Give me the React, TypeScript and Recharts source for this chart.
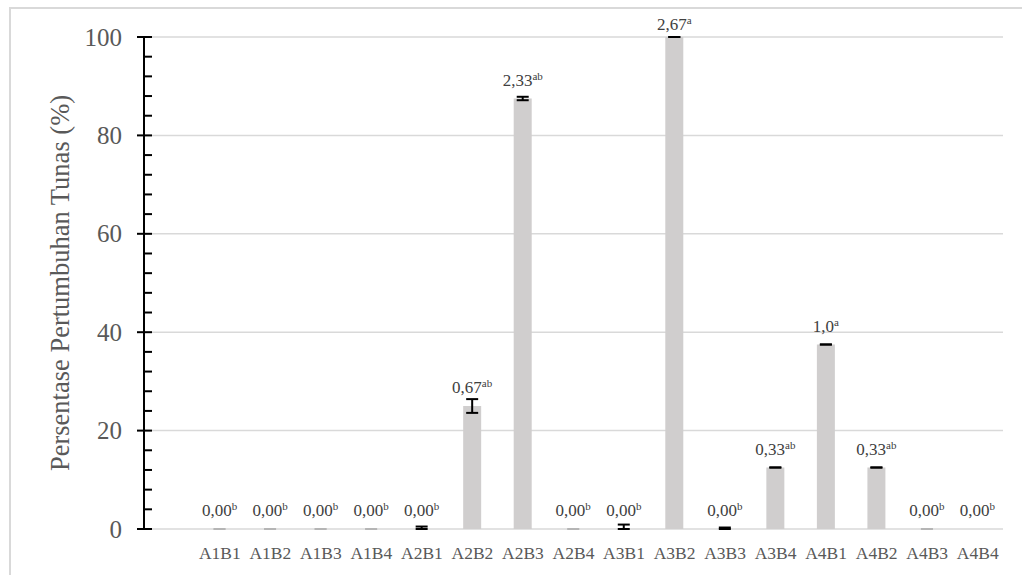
import { BarChart, Bar, XAxis, YAxis, CartesianGrid, ErrorBar, LabelList } from "recharts";

// treatment codes (first slot is intentionally left empty)
const categories = ["", "A1B1", "A1B2", "A1B3", "A1B4", "A2B1", "A2B2", "A2B3", "A2B4", "A3B1", "A3B2", "A3B3", "A3B4", "A4B1", "A4B2", "A4B3", "A4B4"];
// shoot growth percentage
const growth = [null, 0, 0, 0, 0, 0, 25, 87.5, 0, 0, 100, 0, 12.5, 37.5, 12.5, 0, 0];
// standard error, lower / upper
const errLow = [null, null, null, null, null, 0, 1.4, 0.35, null, 0, 0, 0, 0, 0, 0, null, null];
const errHigh = [null, null, null, null, null, 0.5, 1.4, 0.35, null, 0.9, 0, 0.3, 0, 0, 0, null, null];
// zero bars that only show a faint base mark
const faint = [false, true, true, true, true, false, false, false, true, false, false, false, false, false, false, true, false];
// mean score + notation letter above each bar
const scores = ["", "0,00", "0,00", "0,00", "0,00", "0,00", "0,67", "2,33", "0,00", "0,00", "2,67", "0,00", "0,33", "1,0", "0,33", "0,00", "0,00"];
const letters = ["", "b", "b", "b", "b", "b", "ab", "ab", "b", "b", "a", "b", "ab", "a", "ab", "b", "b"];

const yTicks = Array.from({ length: 26 }, (_, i) => i * 4);
const gridValues = [0, 20, 40, 60, 80, 100];

const data = categories.map((name, i) => ({
  name,
  value: growth[i],
  err: errLow[i] === null ? null : [errLow[i], errHigh[i]],
  faintErr: faint[i] ? [0, 0] : null,
}));

const FONT = "'Liberation Serif', 'Times New Roman', serif";

const YTick = ({ x, y, payload }: any) => {
  const major = payload.value % 20 === 0;
  return (
    <g>
      <line x1={major ? x - 7 : x} x2={x + 8} y1={y} y2={y} stroke="#000" strokeWidth={2} />
      {major && (
        <text x={x - 22} y={y} dy={8.5} textAnchor="end" fontSize={25} fontFamily={FONT} fill="#595959">
          {payload.value}
        </text>
      )}
    </g>
  );
};

const XTick = ({ x, y, payload }: any) =>
  payload.value ? (
    <text x={x} y={y + 28} textAnchor="middle" fontSize={17.5} fontFamily={FONT} fill="#595959">
      {payload.value}
    </text>
  ) : null;

const YTitle = ({ viewBox }: any) => {
  const cx = viewBox.x + 60;
  const cy = viewBox.y + viewBox.height / 2;
  return (
    <text x={cx} y={cy} transform={`rotate(-90 ${cx} ${cy})`} textAnchor="middle" dominantBaseline="central" fontSize={26.5} fontFamily={FONT} fill="#595959">
      Persentase Pertumbuhan Tunas (%)
    </text>
  );
};

// label keyed by category name so it stays with the right bar
const ScoreLabel = (props: any) => {
  const { x, y, width, value } = props;
  const i = categories.indexOf(value);
  if (i < 1) return null;
  const base = Math.max(y - 13, 30);
  return (
    <text x={x + width / 2} y={base} textAnchor="middle" fontFamily={FONT} fill="#404040">
      <tspan fontSize={17}>{scores[i]}</tspan>
      <tspan fontSize={11} dy={-6}>{letters[i]}</tspan>
    </text>
  );
};

export default function App() {
  return (
    <div style={{ position: "absolute", left: 0, top: 0, width: 1022, height: 575, background: "#fff", overflow: "hidden" }}>
      <div style={{ position: "absolute", left: 9, top: 7, width: 1040, height: 600, borderTop: "2px solid #d9d9d9", borderLeft: "2px solid #d9d9d9" }} />
      <BarChart
        width={1022}
        height={575}
        data={data}
        margin={{ top: 37, right: 19, bottom: 16, left: 0 }}
        style={{ position: "absolute", left: 0, top: 0 }}
      >
        <CartesianGrid vertical={false} horizontalValues={gridValues} stroke="#d9d9d9" strokeWidth={1.5} />
        <XAxis dataKey="name" height={30} axisLine={false} tickLine={false} tickSize={0} interval={0} tick={<XTick />} />
        <YAxis
          width={144}
          domain={[0, 100]}
          ticks={yTicks}
          interval={0}
          tickSize={0}
          tickMargin={0}
          tickLine={false}
          axisLine={{ stroke: "#000", strokeWidth: 2 }}
          tick={<YTick />}
          label={{ content: YTitle }}
        />
        <Bar dataKey="value" fill="#d0cece" barSize={18} minPointSize={0.01} isAnimationActive={false}>
          <ErrorBar dataKey="faintErr" width={6} stroke="#a6a6a6" strokeWidth={1} isAnimationActive={false} />
          <ErrorBar dataKey="err" width={6} stroke="#000" strokeWidth={2} isAnimationActive={false} />
          <LabelList dataKey="name" content={ScoreLabel} />
        </Bar>
      </BarChart>
    </div>
  );
}
